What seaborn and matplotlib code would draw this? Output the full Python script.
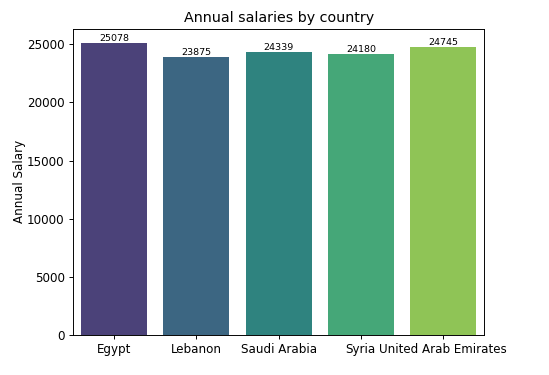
import matplotlib
matplotlib.use("Agg")
import matplotlib.pyplot as plt
import seaborn as sns
import pandas as pd

countries = ["Egypt", "Lebanon", "Saudi Arabia", "Syria", "United Arab Emirates"]
salaries = [25078, 23875, 24339, 24180, 24745]

df = pd.DataFrame({"Country": countries, "Annual Salary": salaries})

DPI = 549 / 6.4
fig, ax = plt.subplots(figsize=(6.4, 375 / DPI), dpi=DPI)
fig.subplots_adjust(left=0.133, right=0.882, top=0.923, bottom=0.107)
sns.barplot(data=df, x="Country", y="Annual Salary", hue="Country",
            palette="viridis", legend=False, ax=ax)
for c in ax.containers:
    ax.bar_label(c, fontsize=8)
ax.set_title("Annual salaries by country")
ax.set_xlabel("")
ax.set_ylabel("Annual Salary", labelpad=1)
fig.savefig("out.png", dpi=DPI)
